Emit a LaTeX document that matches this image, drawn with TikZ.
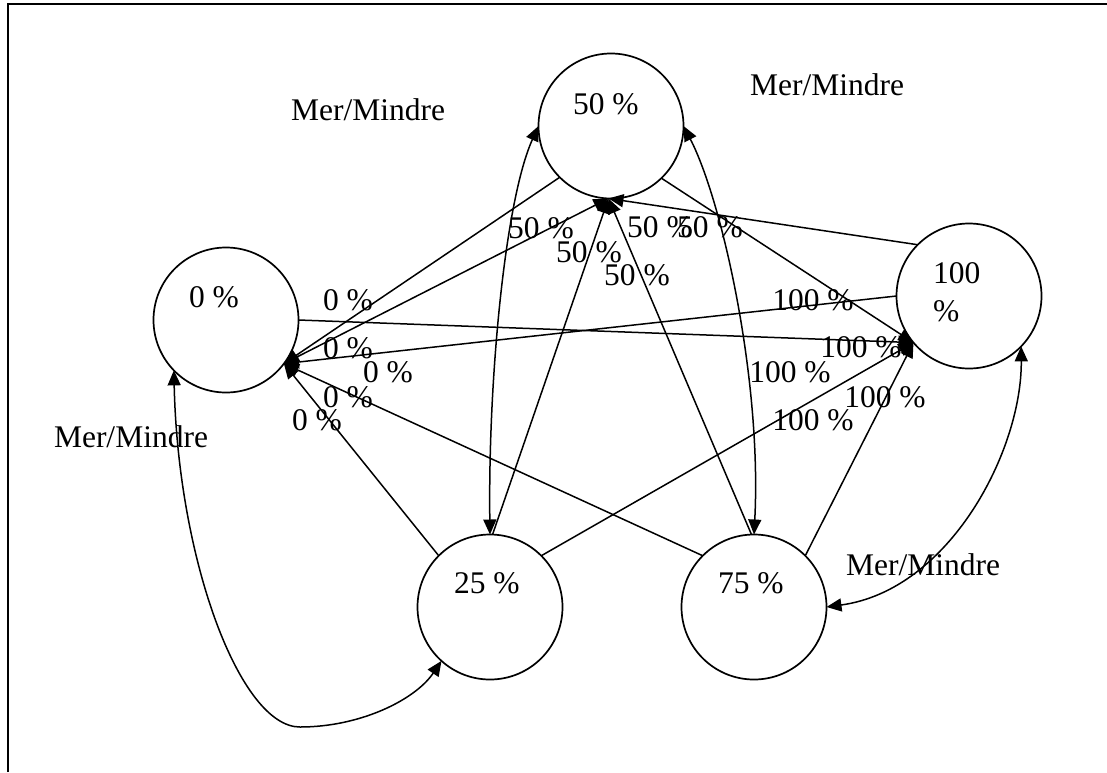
\documentclass[tikz,border=0pt]{standalone}
\usepackage{fontspec}
\setmainfont{Liberation Serif}
\usetikzlibrary{arrows.meta}
\begin{document}
\begin{tikzpicture}[x=1pt,y=-1pt,
  state/.style={circle,draw,line width=1.7pt,minimum size=145pt,inner sep=0pt,outer sep=0pt},
  txt/.style={inner sep=0pt,outer sep=0pt,font=\fontsize{31.5}{38}\selectfont},
  conn/.style={line width=1.5pt,-{Triangle[length=15pt,width=13pt]}},
  dconn/.style={line width=1.5pt,{Triangle[length=15pt,width=13pt]}-{Triangle[length=15pt,width=13pt]}},
]
\useasboundingbox (0,0) rectangle (1107,772);
\draw[line width=2pt] (8,772) -- (8,4) -- (1107,4);

% states
\node[state] (c50) at (611,126) {};
\node[state] (c0) at (226,320) {};
\node[state] (c100) at (969,296) {};
\node[state] (c25) at (490,607) {};
\node[state] (c75) at (754,607) {};

\node[txt,anchor=base west] (t50) at (573,114) {50 \%};
\node[txt,anchor=base west] (t0) at (189,307) {0 \%};
\node[txt,anchor=base west] (t100a) at (933,283) {100};
\node[txt,anchor=base west] (t100b) at (933,321) {\%};
\node[txt,anchor=base west] (t25) at (454,593) {25 \%};
\node[txt,anchor=base west] (t75) at (718,593) {75 \%};

% curved two-way connectors
\draw[dconn] (c50.180) .. controls (505,200) and (488,380) .. (c25.90);
\draw[dconn] (c50.0) .. controls (722,200) and (762,380) .. (c75.90);
\draw[dconn] (c0.224) .. controls (178,560) and (240,727) .. (300,727)
                      .. controls (360,727) and (415,700) .. (c25.228);
\draw[dconn] (c100.316) .. controls (1022,450) and (950,590) .. (c75.0);

% straight connectors into 50 %
\draw[conn] (c0.323) -- (c50.268);
\draw[conn] (c100.135) -- (c50.268);
\draw[conn] (c25.88) -- (c50.268);
\draw[conn] (c75.92) -- (c50.268);
% into 0 %
\draw[conn] (c50.225) -- (c0.323);
\draw[conn] (c100.180) -- (c0.323);
\draw[conn] (c25.135) -- (c0.323);
\draw[conn] (c75.135) -- (c0.323);
% into 100 %
\draw[conn] (c0.0) -- (c100.220);
\draw[conn] (c50.314) -- (c100.220);
\draw[conn] (c25.45) -- (c100.220);
\draw[conn] (c75.45) -- (c100.220);

% edge labels
\node[txt,anchor=base] (l50a) at (541,238) {50 \%};
\node[txt,anchor=base] (l50b) at (589,262) {50 \%};
\node[txt,anchor=base] (l50c) at (637,285) {50 \%};
\node[txt,anchor=base] (l50d) at (660,237) {50 \%};
\node[txt,anchor=base] (l50e) at (710,237) {50 \%};

\node[txt,anchor=base] (l0a) at (348,310) {0 \%};
\node[txt,anchor=base] (l0b) at (348,358) {0 \%};
\node[txt,anchor=base] (l0c) at (388,382) {0 \%};
\node[txt,anchor=base] (l0d) at (348,407) {0 \%};
\node[txt,anchor=base] (l0e) at (317,430) {0 \%};

\node[txt,anchor=base] (l100a) at (813,310) {100 \%};
\node[txt,anchor=base] (l100b) at (861,357) {100 \%};
\node[txt,anchor=base] (l100c) at (790,382) {100 \%};
\node[txt,anchor=base] (l100d) at (885,407) {100 \%};
\node[txt,anchor=base] (l100e) at (813,430) {100 \%};

\node[txt,anchor=base] (m1) at (368,120) {Mer/Mindre};
\node[txt,anchor=base] (m2) at (827,95) {Mer/Mindre};
\node[txt,anchor=base] (m3) at (131,447) {Mer/Mindre};
\node[txt,anchor=base] (m4) at (923,575) {Mer/Mindre};
\end{tikzpicture}
\end{document}
